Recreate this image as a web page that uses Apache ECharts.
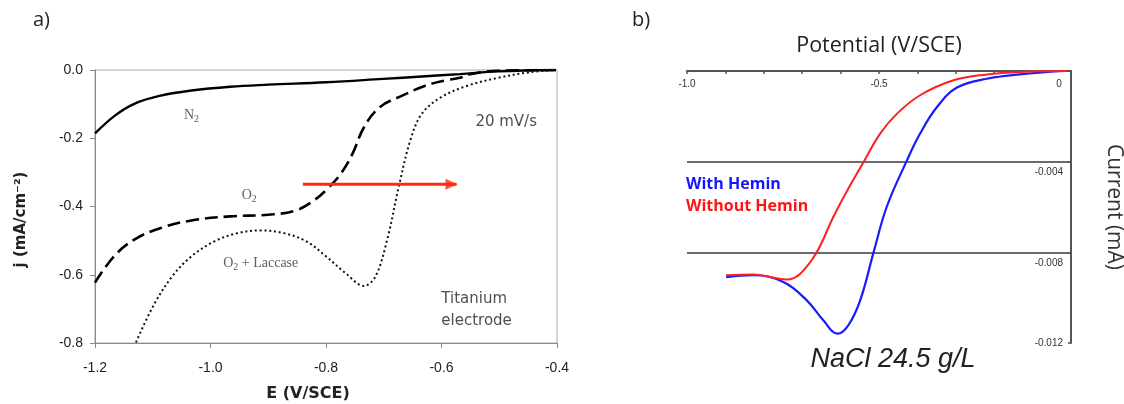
<!DOCTYPE html>
<html>
<head>
<meta charset="utf-8">
<script src="https://cdn.jsdelivr.net/npm/echarts@6/dist/echarts.min.js"></script>
<style>
  html, body { margin: 0; padding: 0; background: #fff; }
  #c { width: 1124px; height: 404px; }
</style>
</head>
<body>
<div id="c"></div>
<script>
// ---- Panel a: titanium electrode, 20 mV/s, E (V/SCE) vs j (mA/cm^-2) ----
const n2E = [-1.2, -1.165, -1.132, -1.086, -1.033, -0.966, -0.9, -0.8, -0.701, -0.634, -0.568, -0.502, -0.402];
const n2J = [-0.186, -0.133, -0.099, -0.075, -0.060, -0.049, -0.043, -0.036, -0.026, -0.019, -0.012, -0.004, 0];

const o2E = [-1.2, -1.167, -1.132, -1.086, -1.033, -0.966, -0.9, -0.853, -0.82, -0.797, -0.774, -0.754, -0.734, -0.707, -0.668, -0.628, -0.595, -0.568, -0.555, -0.502, -0.402];
const o2J = [-0.623, -0.546, -0.497, -0.463, -0.441, -0.429, -0.424, -0.412, -0.381, -0.347, -0.303, -0.245, -0.167, -0.109, -0.075, -0.046, -0.031, -0.023, -0.014, -0.002, 0];

const lacE = [-1.129, -1.099, -1.066, -1.033, -0.993, -0.953, -0.913, -0.873, -0.834, -0.8, -0.767, -0.734, -0.714, -0.694, -0.674, -0.654, -0.634, -0.601, -0.555, -0.502, -0.449, -0.402];
const lacJ = [-0.798, -0.691, -0.604, -0.546, -0.502, -0.478, -0.470, -0.478, -0.502, -0.546, -0.594, -0.633, -0.604, -0.497, -0.342, -0.206, -0.128, -0.080, -0.046, -0.023, -0.007, 0];

// shift of the onset potential, drawn as an arrow
const shiftFrom = [-0.840, -0.335];
const shiftTo = [-0.574, -0.335];

const aTicksE = [-1.2, -1.0, -0.8, -0.6, -0.4];
const aTicksJ = [0.0, -0.2, -0.4, -0.6, -0.8];

// ---- Panel b: NaCl 24.5 g/L, potential (V/SCE) vs current (mA) ----
const heminV = [-0.898, -0.827, -0.749, -0.688, -0.645, -0.608, -0.58, -0.549, -0.514, -0.48, -0.429, -0.393, -0.349, -0.297, -0.219, -0.133, -0.02];
const heminI = [-0.00909, -0.00901, -0.00931, -0.01012, -0.0110, -0.01159, -0.01122, -0.01012, -0.00799, -0.0060, -0.00401, -0.00276, -0.00159, -0.00073, -0.00034, -0.00015, 0];

const plainV = [-0.898, -0.827, -0.74, -0.705, -0.662, -0.619, -0.575, -0.54, -0.497, -0.453, -0.393, -0.306, -0.219, -0.133, -0.011];
const plainI = [-0.00901, -0.00898, -0.0092, -0.00894, -0.00799, -0.00644, -0.00504, -0.00401, -0.00276, -0.00188, -0.00107, -0.00041, -0.00015, -0.00004, 0];

const bTicksV = [-1.0, -0.5, 0];
const bTicksI = [-0.004, -0.008, -0.012];

const zip = (xs, ys) => xs.map((x, i) => [x, ys[i]]);
const near = (a, b) => Math.abs(a - b) < 1e-9;

const chart = echarts.init(document.getElementById('c'), null, { renderer: 'canvas' });

const tickFont = 'Liberation Sans, Arial, sans-serif';
const handFont = 'DejaVu Sans, sans-serif';
const serif = 'Liberation Serif, Times New Roman, serif';
const sansUI = 'Open Sans, sans-serif';
const arrowRed = '#ff2a0d';

// chemical-formula style label with a subscript 2
const sub2 = base => ({
  formatter: base,
  rich: {
    n: { fontFamily: serif, fontSize: 14, color: '#333', lineHeight: 18 },
    s: { fontFamily: serif, fontSize: 10, color: '#333', verticalAlign: 'bottom', lineHeight: 18 }
  }
});

chart.setOption({
  animation: false,
  backgroundColor: '#fff',
  grid: [
    { left: 95, top: 70, width: 462, height: 273, show: true, borderColor: '#a8a8a8', borderWidth: 1, outerBoundsMode: 'none', containLabel: false },
    { left: 687, top: 71, width: 384, height: 272, outerBoundsMode: 'none', containLabel: false }
  ],
  legend: {
    orient: 'vertical',
    left: 676,
    top: 171,
    itemWidth: 0,
    itemHeight: 0,
    itemGap: 6,
    selectedMode: false,
    textStyle: { fontSize: 16, fontWeight: 'bold', fontFamily: sansUI },
    data: [
      { name: 'With Hemin', icon: 'rect', textStyle: { color: '#1414ff' } },
      { name: 'Without Hemin', icon: 'rect', textStyle: { color: '#ff1414' } }
    ]
  },
  xAxis: [
    {
      gridIndex: 0, type: 'value', position: 'bottom', min: -1.2, max: -0.4, interval: 0.2,
      axisLine: { onZero: false, lineStyle: { color: '#8a8a8a', width: 1 } },
      axisTick: { length: 5, lineStyle: { color: '#8a8a8a' } },
      axisLabel: {
        margin: 18, fontSize: 14, color: '#222', fontFamily: tickFont,
        formatter: v => aTicksE.some(t => near(t, v)) ? v.toFixed(1) : ''
      },
      splitLine: { show: false },
      name: 'E (V/SCE)', nameLocation: 'middle', nameGap: 43,
      nameTextStyle: { fontSize: 16, fontWeight: 'bold', color: '#222', fontFamily: handFont, padding: [0, 36, 0, 0] }
    },
    {
      gridIndex: 1, type: 'value', position: 'top', min: -1.0, max: 0, interval: 0.1,
      axisLine: { onZero: false, lineStyle: { color: '#555', width: 2 } },
      axisTick: { inside: true, length: 3, lineStyle: { color: '#555', width: 1.5 } },
      axisLabel: {
        inside: true, margin: 8, fontSize: 10, color: '#333', fontFamily: tickFont,
        showMinLabel: true, showMaxLabel: true,
        formatter: v => {
          if (!bTicksV.some(t => near(t, v))) return '';
          if (near(v, 0)) return '{z|0}';
          return v.toFixed(1);
        },
        rich: { z: { fontSize: 10, color: '#333', fontFamily: tickFont, padding: [0, 24, 0, 0] } }
      },
      splitLine: { show: false },
      name: 'Potential (V/SCE)', nameLocation: 'middle', nameGap: 14,
      nameTextStyle: { fontSize: 21.5, color: '#222', fontFamily: sansUI }
    }
  ],
  yAxis: [
    {
      gridIndex: 0, type: 'value', position: 'left', min: -0.8, max: 0, interval: 0.2,
      axisLine: { show: true, onZero: false, lineStyle: { color: '#8a8a8a', width: 1 } },
      axisTick: { show: true, length: 5, lineStyle: { color: '#8a8a8a' } },
      axisLabel: {
        margin: 12, fontSize: 14, color: '#222', fontFamily: tickFont,
        formatter: v => aTicksJ.some(t => near(t, v)) ? (near(v, 0) ? '0.0' : v.toFixed(1)) : ''
      },
      splitLine: { show: false },
      name: 'j (mA/cm\u207B\u00B2)', nameLocation: 'middle', nameGap: 66,
      nameTextStyle: { fontSize: 15, fontWeight: 'bold', color: '#222', fontFamily: handFont, padding: [0, 26, 0, 0] }
    },
    {
      gridIndex: 1, type: 'value', position: 'right', min: -0.012, max: 0, interval: 0.004,
      axisLine: { show: true, onZero: false, lineStyle: { color: '#555', width: 2 } },
      axisTick: { show: true, inside: true, length: 3, lineStyle: { color: '#555', width: 1.5 } },
      axisLabel: {
        inside: true, margin: 8, fontSize: 10, color: '#333', fontFamily: tickFont,
        formatter: v => {
          if (!bTicksI.some(t => near(t, v))) return '';
          if (near(v, -0.012)) return v.toFixed(3);
          return '{d|' + v.toFixed(3) + '}';
        },
        rich: { d: { fontSize: 10, color: '#333', fontFamily: tickFont, padding: [22, 0, 0, 0] } }
      },
      splitLine: {
        show: true, showMinLine: false, showMaxLine: false,
        lineStyle: { color: '#383838', width: 1.6 }
      },
      name: 'Current (mA)', nameLocation: 'middle', nameRotate: -90, nameGap: 32,
      nameTextStyle: { fontSize: 21, color: '#333', fontFamily: sansUI }
    }
  ],
  series: [
    {
      name: 'N2', type: 'line', xAxisIndex: 0, yAxisIndex: 0,
      data: zip(n2E, n2J), smooth: 0.4, showSymbol: false, symbol: 'none',
      lineStyle: { color: '#000', width: 2.4 }
    },
    {
      name: 'O2', type: 'line', xAxisIndex: 0, yAxisIndex: 0,
      data: zip(o2E, o2J), smooth: 0.4, showSymbol: false, symbol: 'none',
      lineStyle: { color: '#000', width: 2.6, type: [13, 6] }
    },
    {
      name: 'O2 + Laccase', type: 'line', xAxisIndex: 0, yAxisIndex: 0,
      data: zip(lacE, lacJ), smooth: 0.35, showSymbol: false, symbol: 'none',
      lineStyle: { color: '#111', width: 2, type: [2, 2.8] }
    },
    {
      name: 'shift', type: 'line', xAxisIndex: 0, yAxisIndex: 0,
      data: [shiftFrom, shiftTo], showSymbol: false, symbol: 'none', silent: true,
      lineStyle: { color: arrowRed, width: 3, cap: 'butt' }, z: 5
    },
    {
      name: 'shift-head', type: 'scatter', xAxisIndex: 0, yAxisIndex: 0,
      data: [shiftTo], symbol: 'triangle', symbolRotate: -90, symbolSize: [11, 12],
      symbolOffset: [-5, 0], silent: true,
      itemStyle: { color: arrowRed }, z: 6
    },
    {
      name: 'notes-a', type: 'scatter', xAxisIndex: 0, yAxisIndex: 0,
      symbolSize: 0, silent: true,
      label: { show: true, position: 'inside', color: '#333', fontFamily: serif, fontSize: 14 },
      data: [
        { value: [-1.033, -0.133], label: sub2('{n|N}{s|2}') },
        { value: [-0.933, -0.366], label: sub2('{n|O}{s|2}') },
        { value: [-0.913, -0.566], label: sub2('{n|O}{s|2}{n| + Laccase}') },
        { value: [-0.488, -0.152], label: { formatter: '20 mV/s', fontFamily: handFont, fontSize: 15, color: '#222' } },
        { value: [-0.538, -0.691], label: { formatter: 'Titanium\nelectrode', fontFamily: handFont, fontSize: 15, lineHeight: 22, color: '#222', align: 'left', position: [-36, -18] } }
      ]
    },
    {
      name: 'With Hemin', type: 'line', xAxisIndex: 1, yAxisIndex: 1,
      data: zip(heminV, heminI), smooth: 0.4, showSymbol: false, symbol: 'none',
      lineStyle: { color: '#1a1aff', width: 2.2 }, itemStyle: { color: '#1a1aff' }, z: 3
    },
    {
      name: 'Without Hemin', type: 'line', xAxisIndex: 1, yAxisIndex: 1,
      data: zip(plainV, plainI), smooth: 0.4, showSymbol: false, symbol: 'none',
      lineStyle: { color: '#ff1f1f', width: 2.0 }, itemStyle: { color: '#ff1f1f' }, z: 4
    }
  ],
  graphic: [
    { type: 'text', left: 33, top: 10, style: { text: 'a)', fontSize: 20, fill: '#222', fontFamily: sansUI } },
    { type: 'text', left: 632, top: 10, style: { text: 'b)', fontSize: 20, fill: '#222', fontFamily: sansUI } },
    {
      type: 'text', x: 893, y: 359,
      style: {
        text: 'NaCl 24.5 g/L', fontSize: 27, fontStyle: 'italic', fill: '#222',
        fontFamily: tickFont, align: 'center', verticalAlign: 'middle',
        shadowColor: 'rgba(0,0,0,0.35)', shadowBlur: 2, shadowOffsetX: 1, shadowOffsetY: 1
      }
    }
  ]
});
</script>
</body>
</html>
